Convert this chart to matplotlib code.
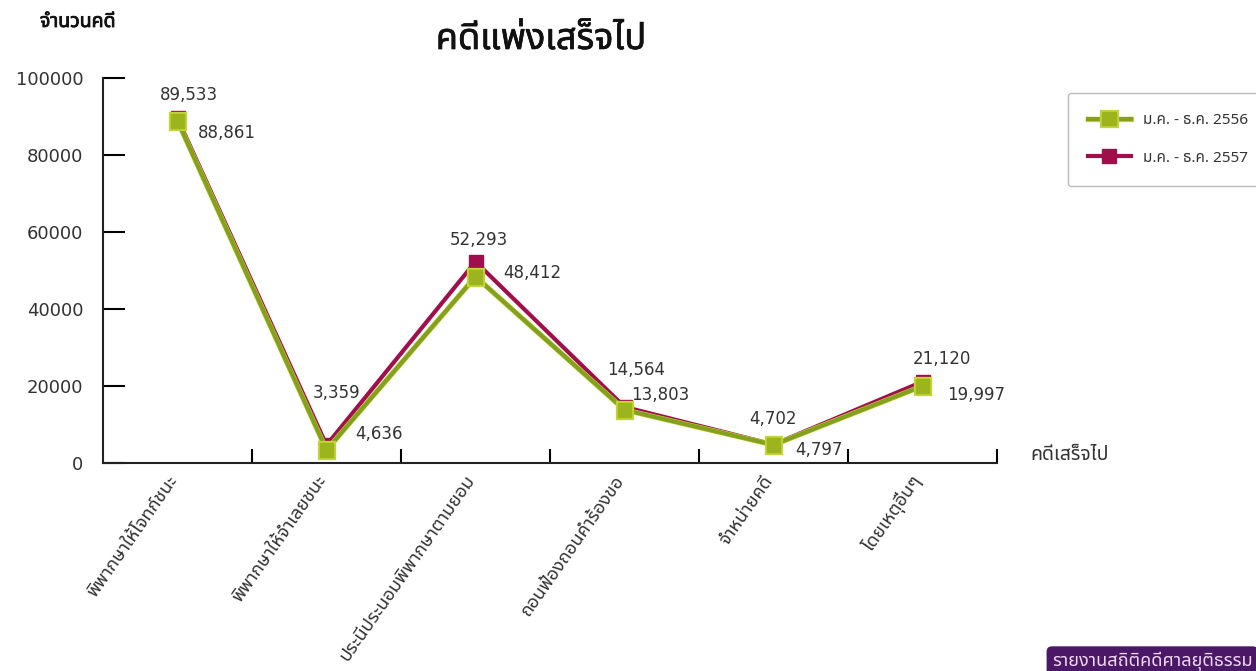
import numpy as np
import matplotlib
matplotlib.use('Agg')
import matplotlib.pyplot as plt
from matplotlib import font_manager
from matplotlib.ft2font import FT2Font
import matplotlib.patheffects as pe

categories = ['พิพากษาให้โจทก์ชนะ', 'พิพากษาให้จำเลยชนะ', 'ประนีประนอมพิพากษาตามยอม',
              'ถอนฟ้องถอนคำร้องขอ', 'จำหน่ายคดี', 'โดยเหตุอื่นๆ']
cases_2556 = [88861, 3359, 48412, 13803, 4702, 19997]
cases_2557 = [89533, 4636, 52293, 14564, 4797, 21120]
series_names = ['ม.ค. - ธ.ค. 2556', 'ม.ค. - ธ.ค. 2557']
yticks = [0, 20000, 40000, 60000, 80000, 100000]

# label offsets in pixels: (series, dx, dy, ha)
label_spots = [
    [('2557', 11, 23, 'center'), ('2556', 20, -12, 'left')],
    [('2556', 10, 57, 'center'), ('2557', 29, 11, 'left')],
    [('2557', 3, 22, 'center'), ('2556', 28, 4, 'left')],
    [('2557', 12, 37, 'center'), ('2556', 7, 15, 'left')],
    [('2556', 0, 26, 'center'), ('2557', 22, -5, 'left')],
    [('2557', 19, 23, 'center'), ('2556', 25, -9, 'left')],
]


def find_thai_font():
    prefer = ['Noto Sans Thai', 'Noto Sans Thai Looped', 'Loma', 'Garuda', 'Norasi',
              'Tlwg Typo', 'Noto Serif Thai']
    found = {}
    for f in font_manager.fontManager.ttflist:
        try:
            cmap = FT2Font(f.fname).get_charmap()
        except Exception:
            continue
        if 0x0E04 in cmap and 0x0E14 in cmap:
            found[f.name] = f.fname
    for p in prefer:
        if p in found:
            return p
    if found:
        return sorted(found)[0]
    return None


thai = find_thai_font()
fams = ([thai] if thai else []) + ['DejaVu Sans']
plt.rcParams['font.family'] = fams

green = '#9db51d'
green_dark = '#84a01f'
red = '#a00f4c'

fig = plt.figure(figsize=(12.56, 6.71), dpi=100)
ax = fig.add_axes([103 / 1256, 1 - 463 / 671, (997 - 103) / 1256, (463 - 78) / 671])

x = np.arange(len(categories))
ax.plot(x, cases_2557, color=red, lw=3.0, marker='s', ms=10, mfc=red, mec=red,
        zorder=3, label=series_names[1])
ax.plot(x, cases_2556, color=green_dark, lw=3.0, marker='s', ms=10, mfc=green, mec=green,
        zorder=4, label=series_names[0],
        path_effects=[pe.Stroke(linewidth=3.8, foreground='#c3d436'), pe.Normal()])

vals = {'2556': cases_2556, '2557': cases_2557}
for i, spots in enumerate(label_spots):
    for key, dx, dy, ha in spots:
        v = vals[key][i]
        ax.annotate(f'{v:,}', (x[i], v), xytext=(dx, dy), textcoords='offset pixels',
                    ha=ha, va='center', fontsize=12, color='#333333',
                    family='DejaVu Sans', zorder=6)

ax.set_xlim(-0.5, 5.5)
ax.set_ylim(0, 100000)
ax.set_yticks(yticks)
ax.set_yticklabels([str(t) for t in yticks], family='DejaVu Sans', fontsize=13, color='#333333')
ax.tick_params(axis='y', direction='in', length=16, width=1.5, pad=14)
ax.set_xticks(x + 0.5)
ax.set_xticklabels([])
ax.tick_params(axis='x', direction='in', length=10, width=1.5)
for s in ['top', 'right']:
    ax.spines[s].set_visible(False)
for s in ['left', 'bottom']:
    ax.spines[s].set_linewidth(1.5)
    ax.spines[s].set_color('#222222')

for i, c in enumerate(categories):
    ax.annotate(c, (x[i], 0), xytext=(-4, -14), textcoords='offset pixels',
                rotation=55, rotation_mode='anchor', ha='right', va='center',
                fontsize=13.2, color='#333333')

fig.text(1030 / 1256, 1 - 455 / 671, 'คดีเสร็จไป', fontsize=14, va='center', color='#333333')
fig.text(40 / 1256, 1 - 22 / 671, 'จำนวนคดี', fontsize=14, va='center', color='#111111',
         path_effects=[pe.withStroke(linewidth=0.6, foreground='#111111')])
fig.text(541 / 1256, 1 - 40 / 671, 'คดีแพ่งเสร็จไป', fontsize=26, ha='center', va='center',
         color='#111111', path_effects=[pe.withStroke(linewidth=0.5, foreground='#111111')])

leg = fig.legend(loc='upper left', bbox_to_anchor=(1068 / 1256, 1 - 93 / 671),
                 handles=ax.get_lines()[::-1], fontsize=11, frameon=True, fancybox=True,
                 edgecolor='#aaaaaa', borderpad=1.3, labelspacing=1.5, handlelength=2.8,
                 handletextpad=0.8, borderaxespad=0)
for t in leg.get_texts():
    t.set_color('#333333')

fig.text(1052 / 1256, 0.0, 'รายงานสถิติคดีศาลยุติธรรม', fontsize=13, color='#f0d8f0',
         va='bottom', ha='left',
         bbox=dict(boxstyle='round,pad=0.3', fc='#4b1868', ec='none'))

fig.savefig('out.png', dpi=100)
